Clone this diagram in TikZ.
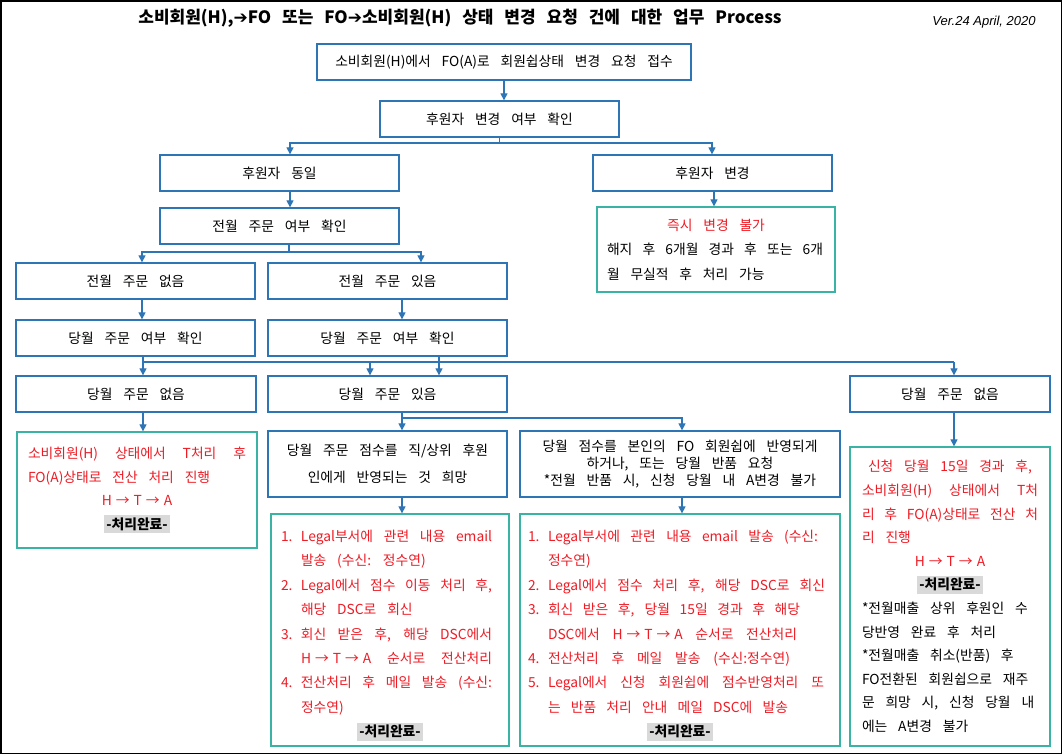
\documentclass[tikz,border=0pt]{standalone}
\usepackage{fontspec}
\setmainfont{Noto Sans CJK KR}[WordSpace=3.5]
\newfontfamily\titlefam{Noto Sans CJK KR}[WordSpace=2.8]
\newfontfamily\arrowfont{DejaVu Sans}
\newfontfamily\verfont{Liberation Sans}
\usetikzlibrary{arrows.meta,calc}
\definecolor{bboxc}{HTML}{2E75B6}
\definecolor{tboxc}{HTML}{3AB3A4}
\definecolor{redt}{HTML}{EE1C25}
\definecolor{hl}{HTML}{D9D9D9}
\definecolor{arrc}{HTML}{2E75B6}
\newcommand{\bxf}[2]{\fontsize{#1}{#2}\selectfont}
\newcommand{\wsp}{\spaceskip=0pt\relax\xspaceskip=0pt\relax}
\newcommand{\hta}{{\spaceskip=4pt\relax H → T → A}}
\newcommand{\done}{{\setlength{\fboxsep}{2.5pt}\colorbox{hl}{\bfseries\color{black}-처리완료-}}}
\newcommand{\num}[1]{\makebox[20pt][l]{#1.}}
\newcommand{\ind}{\hspace*{20pt}}
\newcommand{\jst}[2]{{\spaceskip=7pt plus 1fil minus 3.5pt\relax\xspaceskip=\spaceskip\makebox[#1][s]{#2}}}
\tikzset{
 bbox/.style={draw=bboxc, line width=1.3pt, rectangle, inner sep=0pt, font=\bxf{13.8}{24}, align=center},
 tbox/.style={draw=tboxc, line width=1.3pt, rectangle, inner sep=0pt, font=\bxf{13.8}{24}},
 arr/.style={draw=arrc, line width=1.2pt, -{Triangle[length=7pt,width=7pt]}},
 ln/.style={draw=arrc, line width=1.2pt},
}
\begin{document}
\begin{tikzpicture}[x=1pt,y=-1pt]
\fill[white] (0,0) rectangle (1063,755);
\useasboundingbox (0,0) rectangle (1063,755);
\draw[line width=1.6pt] (1,1) rectangle (1061.5,753.5);

\node (title) at (460,18) {\titlefam\fontsize{17}{20}\selectfont\bfseries 소비회원(H),{\arrowfont\mdseries ➔}FO 또는 FO{\arrowfont\mdseries ➔}소비회원(H) 상태 변경 요청 건에 대한 업무 Process};
\node (ver) at (984,22) {\verfont\itshape\fontsize{13}{15}\selectfont Ver.24 April, 2020};

\node[bbox, minimum width=374pt, minimum height=36pt] (A) at (504,62) {소비회원(H)에서 FO(A)로 회원쉽상태 변경 요청 접수};
\node[bbox, minimum width=239pt, minimum height=36pt] (B) at (499.5,119) {후원자 변경 여부 확인};
\node[bbox, minimum width=239pt, minimum height=36pt] (C) at (279.5,173) {후원자 동일};
\node[bbox, minimum width=239pt, minimum height=36pt] (D) at (712.5,173) {후원자 변경};
\node[bbox, minimum width=239pt, minimum height=36pt] (E) at (279.5,226) {전월 주문 여부 확인};
\node[tbox, minimum width=238pt, minimum height=85pt, text width=218pt, align=left, font=\bxf{13.8}{24.5}] (D2) at (716,249.5) {\wsp\makebox[218pt][c]{\color{redt}즉시 변경 불가}\\\jst{216pt}{해지 후 6개월 경과 후 또는 6개}\\월 무실적 후 처리 가능};
\node[bbox, minimum width=239pt, minimum height=36pt] (F) at (135.5,281) {전월 주문 없음};
\node[bbox, minimum width=239pt, minimum height=36pt] (G) at (387.5,281) {전월 주문 있음};
\node[bbox, minimum width=239pt, minimum height=36pt] (H) at (135.5,338) {당월 주문 여부 확인};
\node[bbox, minimum width=239pt, minimum height=36pt] (I) at (387.5,338) {당월 주문 여부 확인};
\node[bbox, minimum width=240pt, minimum height=36pt] (J) at (136,394) {당월 주문 없음};
\node[bbox, minimum width=239pt, minimum height=36pt] (K) at (387.5,394) {당월 주문 있음};
\node[bbox, minimum width=200pt, minimum height=36pt] (L) at (950,394) {당월 주문 없음};

\node[tbox, minimum width=240pt, minimum height=116pt, text width=218pt, align=left, font=\bxf{13.8}{23.5}] (M) at (137,490) {\wsp\color{redt}\jst{218pt}{소비회원(H) 상태에서 T처리 후}\\FO(A)상태로 전산 처리 진행\\\makebox[218pt][c]{\hta}\\\makebox[218pt][c]{\done}};

\node[bbox, minimum width=239pt, minimum height=66pt, font=\bxf{13.8}{27}] (N) at (387.5,464) {당월 주문 점수를 직/상위 후원\\인에게 반영되는 것 희망};
\node[bbox, minimum width=320pt, minimum height=66pt, font=\bxf{13.8}{17}] (P) at (680,464) {당월 점수를 본인의 FO 회원쉽에 반영되게\\하거나, 또는 당월 반품 요청\\{*}전월 반품 시, 신청 당월 내 A변경 불가};

\node[tbox, minimum width=238pt, minimum height=232pt, text width=218pt, align=left, font=\bxf{13.8}{24.4}] (Q) at (390,630) {\wsp\color{redt}%
\rule{0pt}{22pt}\num{1}\jst{191pt}{Legal부서에 관련 내용 email}\\
\ind 발송 (수신: 정수연)\\
\num{2}\jst{191pt}{Legal에서 점수 이동 처리 후,}\\
\ind 해당 DSC로 회신\\
\num{3}\jst{191pt}{회신 받은 후, 해당 DSC에서}\\
\ind\jst{191pt}{\hta{} 순서로 전산처리}\\
\num{4}\jst{191pt}{전산처리 후 메일 발송 (수신:}\\
\ind 정수연)\\
\makebox[218pt][c]{\done}};

\node[tbox, minimum width=320pt, minimum height=232pt, text width=304pt, align=left, font=\bxf{13.8}{24.4}] (R) at (680,630) {\wsp\color{redt}%
\rule{0pt}{22pt}\num{1}\jst{270pt}{Legal부서에 관련 내용 email 발송 (수신:}\\
\ind 정수연)\\
\num{2}\jst{277pt}{Legal에서 점수 처리 후, 해당 DSC로 회신}\\
\num{3}\jst{252pt}{회신 받은 후, 당월 15일 경과 후 해당}\\
\ind\jst{249pt}{DSC에서 \hta{} 순서로 전산처리}\\
\num{4}\jst{242pt}{전산처리 후 메일 발송 (수신:정수연)}\\
\num{5}\jst{276pt}{Legal에서 신청 회원쉽에 점수반영처리 또}\\
\ind\jst{240pt}{는 반품 처리 안내 메일 DSC에 발송}\\
\makebox[304pt][c]{\done}};

\node[tbox, minimum width=200pt, minimum height=299pt, text width=176pt, align=left, font=\bxf{13.8}{23.6}] (S) at (950,596.5) {\wsp{\color{redt}\makebox[176pt][c]{신청 당월 15일 경과 후,}\\
\jst{176pt}{소비회원(H) 상태에서 T처}\\
\jst{176pt}{리 후 FO(A)상태로 전산 처}\\
리 진행\\
\makebox[176pt][c]{\hta}}\\
\makebox[176pt][c]{\done}\\
{*}전월매출 상위 후원인 수\\
당반영 완료 후 처리\\
{*}전월매출 취소(반품) 후\\
FO전환된 회원쉽으로 재주\\
문 희망 시, 신청 당월 내\\
에는 A변경 불가};

% connector coordinates
\coordinate (xa) at (504,0);
\coordinate (bus1) at (0,143);
\coordinate (xc) at (290,0);
\coordinate (xd) at (712,0);
\coordinate (xd2) at (714,0);
\coordinate (xe) at (289,0);
\coordinate (bus2) at (0,252);
\coordinate (xf) at (142,0);
\coordinate (xg) at (421,0);
\coordinate (xi) at (402,0);
\coordinate (bus3) at (0,362);
\coordinate (xh) at (143,0);
\coordinate (xi2) at (439,0);
\coordinate (xk1) at (370,0);
\coordinate (xl) at (954,0);
\coordinate (bus4) at (0,418);
\coordinate (xp) at (682,0);

\draw[arr] (xa |- A.south) -- (xa |- B.north);
\draw[arr] (B.south) -- (B.south |- bus1) -| (xc |- C.north);
\draw[arr] (B.south |- bus1) -| (xd |- D.north);
\draw[arr] (xc |- C.south) -- (xc |- E.north);
\draw[arr] (xd2 |- D.south) -- (xd2 |- D2.north);
\draw[arr] (xe |- E.south) -- (xe |- bus2) -| (xf |- F.north);
\draw[arr] (xe |- bus2) -| (xg |- G.north);
\draw[arr] (xf |- F.south) -- (xf |- H.north);
\draw[arr] (xi |- G.south) -- (xi |- I.north);
\draw[arr] (xh |- H.south) -- (xh |- J.north);
\draw[ln] (xh |- bus3) -- (xl |- bus3);
\draw[arr] (xl |- bus3) -- (xl |- L.north);
\draw[arr] (xk1 |- bus3) -- (xk1 |- K.north);
\draw[arr] (xi2 |- I.south) -- (xi2 |- K.north);
\draw[arr] (xh |- J.south) -- (xh |- M.north);
\draw[arr] (xi |- K.south) -- (xi |- N.north);
\draw[arr] (xi |- bus4) -| (xp |- P.north);
\draw[arr] (xi |- N.south) -- (xi |- Q.north);
\draw[arr] (xp |- P.south) -- (xp |- R.north);
\draw[arr] (xl |- L.south) -- (xl |- S.north);
\end{tikzpicture}
\end{document}
